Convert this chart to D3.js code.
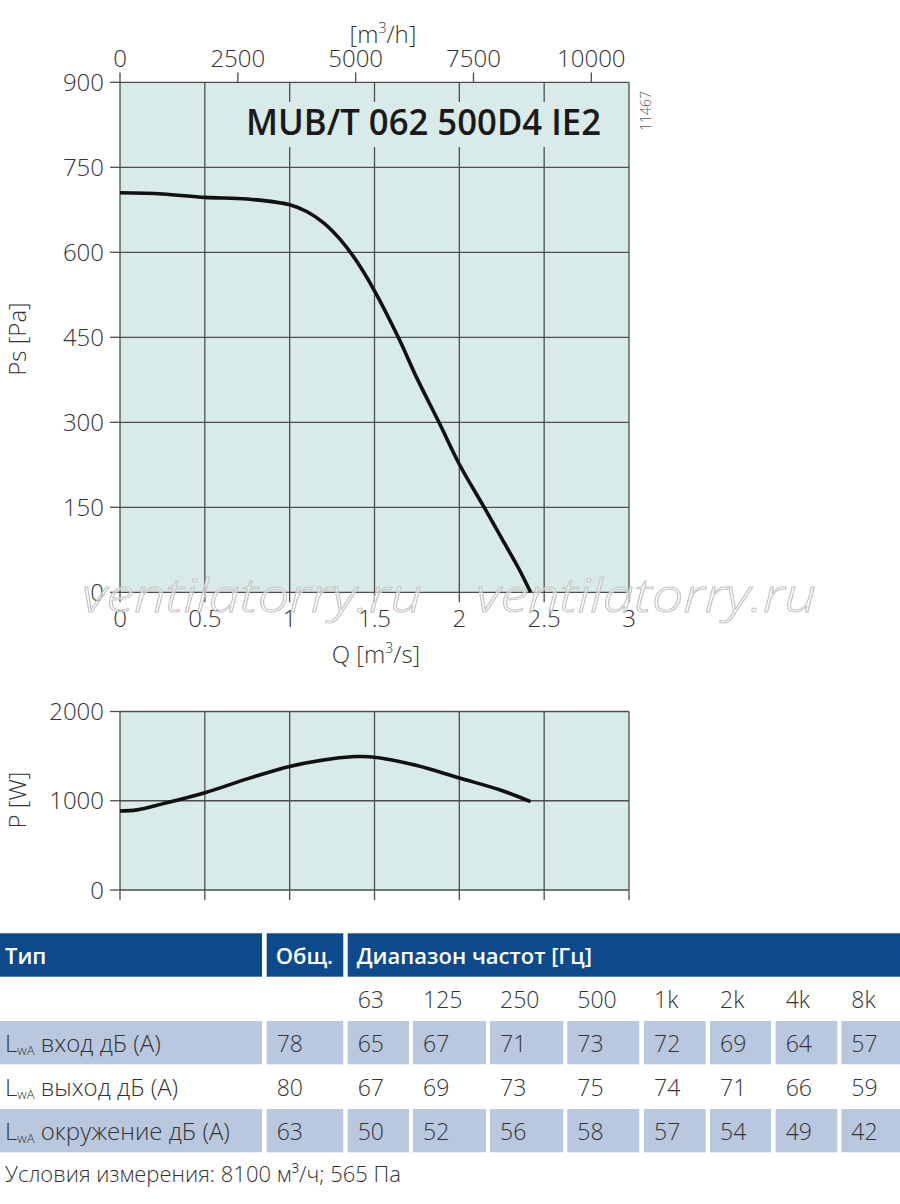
<!DOCTYPE html>
<html><head><meta charset="utf-8">
<script src="https://cdn.jsdelivr.net/npm/d3@7"></script>
<style>
body{margin:0;background:#fff;}
svg text{font-family:"Open Sans",sans-serif;}
</style></head>
<body>
<svg id="c" width="900" height="1204"></svg>
<script>
// ---- data ----
const title = "MUB/T 062 500D4 IE2";
const drawingNo = "11467";
const qPressure = [0, 0.25, 0.5, 0.75, 1.0, 1.1, 1.2, 1.3, 1.4, 1.5, 1.64, 1.75, 1.88, 2.0, 2.15, 2.25, 2.35, 2.42];
const psValues  = [705, 703, 697, 694, 684, 672, 652, 622, 582, 532, 450, 378, 300, 226, 148, 95, 42, 0];
const qPower = [0, 0.1, 0.25, 0.5, 0.75, 1.0, 1.25, 1.4, 1.5, 1.75, 2.0, 2.25, 2.42];
const pValues = [885, 898, 965, 1090, 1245, 1385, 1470, 1495, 1488, 1395, 1255, 1115, 990];
const qTicks = [0, 0.5, 1, 1.5, 2, 2.5, 3];
const qTickLabels = ["0", "0.5", "1", "1.5", "2", "2.5", "3"];
const m3hTicks = [0, 2500, 5000, 7500, 10000];
const psTicks = [0, 150, 300, 450, 600, 750, 900];
const pTicks = [0, 1000, 2000];
const freqBands = ["63", "125", "250", "500", "1k", "2k", "4k", "8k"];
const rowLabels = ["вход дБ (A)", "выход дБ (A)", "окружение дБ (A)"];
const rowTotals = [78, 80, 63];
const inletLevels   = [65, 67, 71, 73, 72, 69, 64, 57];
const outletLevels  = [67, 69, 73, 75, 74, 71, 66, 59];
const ambientLevels = [50, 52, 56, 58, 57, 54, 49, 42];
const headerLabels = ["Тип", "Общ.", "Диапазон частот [Гц]"];
const footnote = "Условия измерения: 8100 м³/ч; 565 Па";
const watermark = "ventilatorry.ru";

// ---- layout ----
const svg = d3.select("#c");
const bg = "#d8ebe9", gridC = "#4d4d4d", txtC = "#333";
const L = 120, R = 629;
const x = d3.scaleLinear().domain([0, 3]).range([L, R]);
const xh = d3.scaleLinear().domain([0, 3 * 3600]).range([L, R]);
const y1 = d3.scaleLinear().domain([0, 900]).range([592.3, 82.3]);
const y2 = d3.scaleLinear().domain([0, 2000]).range([890, 711.5]);

function panel(y, ticks) {
  const g = svg.append("g");
  g.append("rect").attr("x", L).attr("y", y.range()[1]).attr("width", R - L)
    .attr("height", y.range()[0] - y.range()[1]).attr("fill", bg);
  g.selectAll(".hg").data(ticks).join("line")
    .attr("x1", L).attr("x2", R).attr("y1", d => y(d)).attr("y2", d => y(d))
    .attr("stroke", gridC).attr("stroke-width", 1.3);
  g.selectAll(".vg").data(qTicks).join("line")
    .attr("x1", d => x(d)).attr("x2", d => x(d)).attr("y1", y.range()[1]).attr("y2", y.range()[0])
    .attr("stroke", gridC).attr("stroke-width", 1.3);
  g.selectAll(".lt").data(ticks).join("line")
    .attr("x1", L - 10).attr("x2", L).attr("y1", d => y(d)).attr("y2", d => y(d))
    .attr("stroke", gridC).attr("stroke-width", 1.3);
  g.selectAll(".ll").data(ticks).join("text")
    .attr("x", 104).attr("y", d => y(d) + 8.5).attr("text-anchor", "end")
    .attr("font-size", 24).attr("font-weight", 300).attr("fill", txtC).text(d => d);
  g.selectAll(".bt").data(qTicks).join("line")
    .attr("x1", d => x(d)).attr("x2", d => x(d)).attr("y1", y.range()[0]).attr("y2", y.range()[0] + 10)
    .attr("stroke", gridC).attr("stroke-width", 1.3);
  return g;
}

// ---- pressure chart ----
const g1 = panel(y1, psTicks);
g1.selectAll(".tt").data(m3hTicks).join("line")
  .attr("x1", d => xh(d)).attr("x2", d => xh(d)).attr("y1", 72.5).attr("y2", 82.3)
  .attr("stroke", gridC).attr("stroke-width", 1.3);
g1.selectAll(".tl").data(m3hTicks).join("text")
  .attr("x", d => xh(d)).attr("y", 67).attr("text-anchor", "middle")
  .attr("font-size", 24).attr("font-weight", 300).attr("fill", txtC).text(d => d);
const th = g1.append("text").attr("x", 383).attr("y", 43).attr("text-anchor", "middle")
  .attr("font-size", 24).attr("font-weight", 300).attr("fill", txtC);
th.append("tspan").text("[m");
th.append("tspan").attr("font-size", 14).attr("dy", -10).text("3");
th.append("tspan").attr("dy", 10).text("/h]");
g1.selectAll(".bl").data(qTicks).join("text")
  .attr("x", d => x(d)).attr("y", 627).attr("text-anchor", "middle")
  .attr("font-size", 24).attr("font-weight", 300).attr("fill", txtC)
  .text((d, i) => qTickLabels[i]);
const qx = g1.append("text").attr("x", 376).attr("y", 663).attr("text-anchor", "middle")
  .attr("font-size", 24).attr("font-weight", 300).attr("fill", txtC);
qx.append("tspan").text("Q [m");
qx.append("tspan").attr("font-size", 14).attr("dy", -10).text("3");
qx.append("tspan").attr("dy", 10).text("/s]");
g1.append("text").attr("transform", "translate(26,339) rotate(-90)").attr("text-anchor", "middle")
  .attr("font-size", 24).attr("font-weight", 300).attr("fill", txtC).text("Ps [Pa]");
g1.append("rect").attr("x", 238).attr("y", 102).attr("width", 372).attr("height", 45).attr("fill", bg);
g1.append("text").attr("x", 246).attr("y", 135).attr("font-size", 36).attr("font-weight", 600)
  .attr("fill", "#1a1a1a").attr("textLength", 355).attr("lengthAdjust", "spacingAndGlyphs").text(title);
g1.append("text").attr("transform", "translate(651,111) rotate(-90)").attr("text-anchor", "middle")
  .attr("font-size", 14).attr("font-weight", 300).attr("fill", "#555").text(drawingNo);
const line1 = d3.line().x(d => x(d[0])).y(d => y1(d[1])).curve(d3.curveCatmullRom.alpha(0.5));
g1.append("path").datum(d3.zip(qPressure, psValues)).attr("d", line1)
  .attr("fill", "none").attr("stroke", "#111").attr("stroke-width", 3.6);

// watermark
svg.selectAll(".wm").data([82, 476]).join("text")
  .attr("x", d => d).attr("y", 612).attr("font-size", 46).attr("font-style", "italic")
  .attr("font-weight", 300).attr("textLength", 340).attr("lengthAdjust", "spacingAndGlyphs")
  .attr("fill", "rgba(255,255,255,0.55)").attr("stroke", "#c4c4c4").attr("stroke-width", 1)
  .text(watermark);

// ---- power chart ----
const g2 = panel(y2, pTicks);
g2.append("text").attr("transform", "translate(26,800) rotate(-90)").attr("text-anchor", "middle")
  .attr("font-size", 24).attr("font-weight", 300).attr("fill", txtC).text("P [W]");
const line2 = d3.line().x(d => x(d[0])).y(d => y2(d[1])).curve(d3.curveCatmullRom.alpha(0.5));
g2.append("path").datum(d3.zip(qPower, pValues)).attr("d", line2)
  .attr("fill", "none").attr("stroke", "#111").attr("stroke-width", 3.6);

// ---- table ----
const colEdges = [[0,262],[266.7,343.3],[347.7,409],[413,486],[490,563.3],[567.3,639.3],[644,705.7],[710,771],[775.7,837.3],[841.3,900]];
const hdrBlue = "#0d4a8b", cellBlue = "#b9c8df";
const t = svg.append("g");
const hdrSpans = [[0,262],[266.7,343.3],[347.7,900]];
t.selectAll(".hd").data(hdrSpans).join("rect")
  .attr("x", d => d[0]).attr("y", 933.3).attr("width", d => d[1] - d[0]).attr("height", 43.4).attr("fill", hdrBlue);
t.selectAll(".hdt").data(headerLabels).join("text")
  .attr("x", (d, i) => hdrSpans[i][0] + (i === 0 ? 5 : 9)).attr("y", 964)
  .attr("font-size", 22).attr("font-weight", 600).attr("fill", "#fff").text(d => d);
t.selectAll(".fq").data(freqBands).join("text")
  .attr("x", (d, i) => colEdges[i + 2][0] + 10).attr("y", 1007.5)
  .attr("font-size", 23).attr("font-weight", 300).attr("fill", txtC).text(d => d);
const rows = [inletLevels, outletLevels, ambientLevels];
const rowTop = [1021, 1065, 1109];
rows.forEach((vals, r) => {
  const shaded = r !== 1;
  const cells = [rowLabels[r], rowTotals[r], ...vals];
  if (shaded) {
    t.selectAll(".c" + r).data(colEdges).join("rect")
      .attr("x", d => d[0]).attr("y", rowTop[r]).attr("width", d => d[1] - d[0]).attr("height", 43.3)
      .attr("fill", cellBlue);
  }
  const base = rowTop[r] + 31;
  const lt = t.append("text").attr("x", 5).attr("y", base).attr("font-size", 24)
    .attr("font-weight", 300).attr("fill", txtC);
  lt.append("tspan").text("L");
  lt.append("tspan").attr("font-size", 13).attr("dy", 3).text("wA");
  lt.append("tspan").attr("dy", -3).text(" " + rowLabels[r]);
  t.selectAll(".v" + r).data(cells.slice(1)).join("text")
    .attr("x", (d, i) => colEdges[i + 1][0] + 10).attr("y", base)
    .attr("font-size", 23).attr("font-weight", 300).attr("fill", txtC).text(d => d);
});
t.append("text").attr("x", 5).attr("y", 1182).attr("font-size", 22).attr("font-weight", 300)
  .attr("fill", txtC).text(footnote);
</script>
</body></html>
